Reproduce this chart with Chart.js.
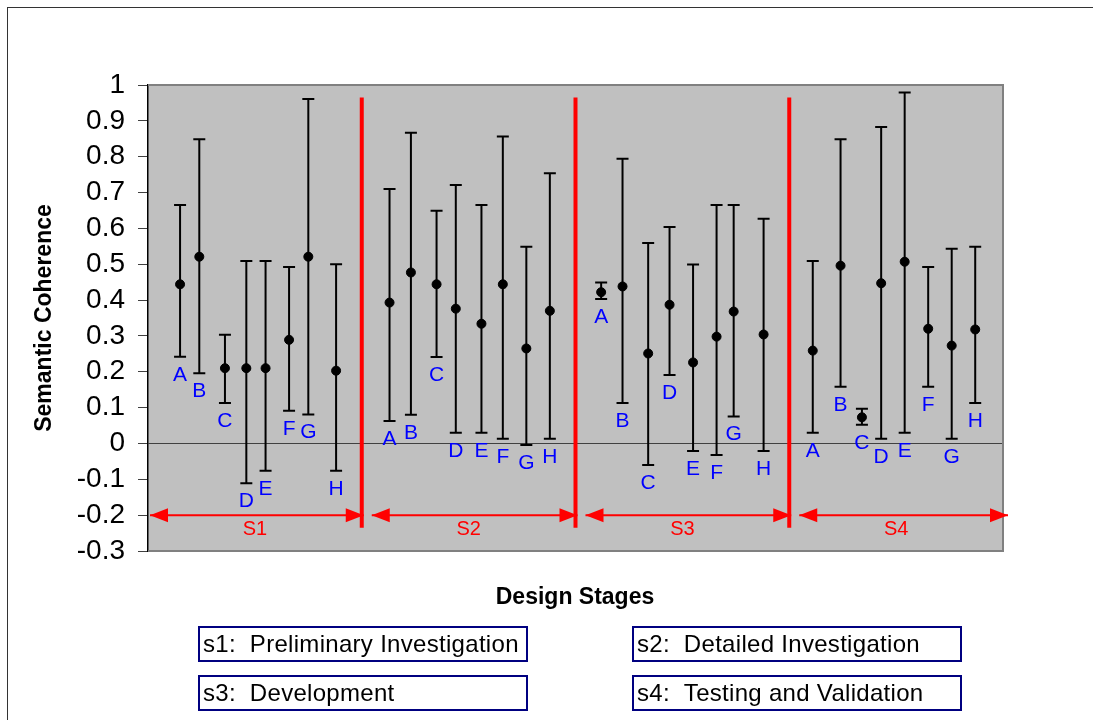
<!DOCTYPE html>
<html>
<head>
<meta charset="utf-8">
<script src="https://cdn.jsdelivr.net/npm/chart.js@4.4.1/dist/chart.umd.min.js"></script>
<style>
  html, body { margin: 0; padding: 0; background: #fff; }
  #wrap { position: relative; width: 1093px; height: 720px; overflow: hidden; font-family: 'Liberation Sans', Arial, sans-serif; }
  #frame { position: absolute; left: 7px; top: 7px; width: 1200px; height: 800px; border-left: 1.5px solid #333; border-top: 1.5px solid #333; }
  canvas { position: absolute; left: 0; top: 0; }
  .xtitle { position: absolute; left: 0; width: 1150px; top: 583px; text-align: center; font-weight: bold; font-size: 23px; color: #000; }
  .lbox { position: absolute; width: 323px; height: 32px; border: 2px solid #000080; font-size: 24px; letter-spacing: 0.3px; line-height: 32px; padding-left: 3px; box-sizing: content-box; white-space: nowrap; color: #000; }
</style>
</head>
<body>
<div id="wrap">
  <div id="frame"></div>
  <canvas id="chart" width="1093" height="720"></canvas>
  <div class="xtitle">Design Stages</div>
  <div id="legend"></div>
</div>
<script>
const LETTERS = ['A', 'B', 'C', 'D', 'E', 'F', 'G', 'H'];
const STAGES = ['S1', 'S2', 'S3', 'S4'];
const STAGE_BOUNDS = [0, 10, 20, 30, 40];
const LEGEND = [
  's1:  Preliminary Investigation',
  's2:  Detailed Investigation',
  's3:  Development',
  's4:  Testing and Validation',
];

// x position of each sample, 8 per stage
const X_POS = [
  1.5, 2.4, 3.6, 4.6, 5.5, 6.6, 7.5, 8.8,
  11.3, 12.3, 13.5, 14.4, 15.6, 16.6, 17.7, 18.8,
  21.2, 22.2, 23.4, 24.4, 25.5, 26.6, 27.4, 28.8,
  31.1, 32.4, 33.4, 34.3, 35.4, 36.5, 37.6, 38.7,
];
const MEANS = [
  0.444, 0.521, 0.21, 0.21, 0.21, 0.289, 0.521, 0.203,
  0.393, 0.477, 0.444, 0.376, 0.334, 0.444, 0.265, 0.37,
  0.422, 0.438, 0.251, 0.387, 0.226, 0.298, 0.368, 0.304,
  0.259, 0.496, 0.073, 0.447, 0.507, 0.32, 0.273, 0.318,
];
const HIGHS = [
  0.665, 0.849, 0.303, 0.509, 0.509, 0.492, 0.961, 0.5,
  0.71, 0.867, 0.649, 0.721, 0.665, 0.856, 0.549, 0.754,
  0.449, 0.794, 0.559, 0.604, 0.499, 0.665, 0.665, 0.627,
  0.509, 0.849, 0.097, 0.883, 0.979, 0.492, 0.543, 0.549,
];
const LOWS = [
  0.242, 0.196, 0.113, -0.111, -0.076, 0.091, 0.081, -0.076,
  0.063, 0.08, 0.241, 0.03, 0.03, 0.013, -0.004, 0.013,
  0.403, 0.113, -0.06, 0.191, -0.021, -0.032, 0.075, -0.021,
  0.03, 0.158, 0.052, 0.013, 0.03, 0.158, 0.013, 0.113,
];
const ARROW_LEVEL = -0.2;
const DIVIDER_TOP = 0.965;
const DIVIDER_BOTTOM = -0.235;

const RED = '#FF0000';
const FONT = "'Liberation Sans', Arial, sans-serif";

const stageMarks = {
  id: 'stageMarks',
  beforeDraw(chart) {
    const { ctx, chartArea: a } = chart;
    ctx.save();
    ctx.fillStyle = '#C0C0C0';
    ctx.fillRect(a.left, a.top, a.right - a.left, a.bottom - a.top);
    ctx.restore();
  },
  beforeDatasetsDraw(chart) {
    const { ctx, chartArea: a, scales: { x, y } } = chart;
    ctx.save();
    // plot frame (top, right, bottom)
    ctx.strokeStyle = '#808080';
    ctx.lineWidth = 2;
    ctx.beginPath();
    ctx.moveTo(a.left, a.top);
    ctx.lineTo(a.right, a.top);
    ctx.lineTo(a.right, a.bottom);
    ctx.lineTo(a.left, a.bottom);
    ctx.stroke();

    // error bars
    ctx.strokeStyle = '#000';
    ctx.lineWidth = 2;
    X_POS.forEach((xv, i) => {
      const px = x.getPixelForValue(xv);
      const top = y.getPixelForValue(HIGHS[i]);
      const bot = y.getPixelForValue(LOWS[i]);
      ctx.beginPath();
      ctx.moveTo(px, top);
      ctx.lineTo(px, bot);
      ctx.moveTo(px - 6, top);
      ctx.lineTo(px + 6, top);
      ctx.moveTo(px - 6, bot);
      ctx.lineTo(px + 6, bot);
      ctx.stroke();
    });

    // stage dividers
    ctx.strokeStyle = RED;
    ctx.lineWidth = 4;
    STAGE_BOUNDS.slice(1, -1).forEach((b) => {
      const px = x.getPixelForValue(b);
      ctx.beginPath();
      ctx.moveTo(px, y.getPixelForValue(DIVIDER_TOP));
      ctx.lineTo(px, y.getPixelForValue(DIVIDER_BOTTOM));
      ctx.stroke();
    });
    ctx.restore();
  },
  afterDatasetsDraw(chart) {
    const { ctx, scales: { x, y } } = chart;
    ctx.save();
    const ay = y.getPixelForValue(ARROW_LEVEL);
    const head = (tip, dir) => {
      ctx.beginPath();
      ctx.moveTo(tip, ay);
      ctx.lineTo(tip - dir * 18, ay - 7);
      ctx.lineTo(tip - dir * 18, ay + 7);
      ctx.closePath();
      ctx.fill();
    };
    ctx.strokeStyle = RED;
    ctx.fillStyle = RED;
    ctx.lineWidth = 2;
    ctx.font = `20px ${FONT}`;
    ctx.textAlign = 'center';
    ctx.textBaseline = 'middle';
    STAGES.forEach((name, s) => {
      const x0 = x.getPixelForValue(STAGE_BOUNDS[s]) + (s === 0 ? 2 : 10);
      const x1 = x.getPixelForValue(STAGE_BOUNDS[s + 1]) + (s === STAGES.length - 1 ? 5 : 2);
      ctx.beginPath();
      ctx.moveTo(x0, ay);
      ctx.lineTo(x1, ay);
      ctx.stroke();
      head(x0, -1);
      head(x1, 1);
      ctx.fillText(name, (x.getPixelForValue(STAGE_BOUNDS[s]) + x.getPixelForValue(STAGE_BOUNDS[s + 1])) / 2, ay + 14);
    });

    // sample letters under each bar
    ctx.fillStyle = '#0000FF';
    ctx.font = `21px ${FONT}`;
    X_POS.forEach((xv, i) => {
      ctx.fillText(LETTERS[i % LETTERS.length], x.getPixelForValue(xv), y.getPixelForValue(LOWS[i]) + 18);
    });
    ctx.restore();
  },
};

new Chart(document.getElementById('chart'), {
  type: 'scatter',
  data: {
    datasets: [{
      label: 'Semantic Coherence',
      data: X_POS.map((xv, i) => ({ x: xv, y: MEANS[i] })),
      backgroundColor: '#000',
      borderColor: '#000',
      pointRadius: 4.5,
      pointHoverRadius: 4.5,
    }],
  },
  options: {
    responsive: false,
    animation: false,
    layout: { padding: { left: 0, top: 85, right: 90, bottom: 169 } },
    plugins: { legend: { display: false }, tooltip: { enabled: false } },
    scales: {
      x: { type: 'linear', min: 0, max: 40, display: false },
      y: {
        min: -0.3,
        max: 1,
        afterFit(scale) { scale.width = 148; },
        ticks: {
          stepSize: 0.1,
          autoSkip: false,
          padding: 13,
          color: '#000',
          font: { family: FONT, size: 28 },
          callback: (v) => String(Math.round(v * 10) / 10),
        },
        grid: {
          color: (c) => (Math.abs(c.tick.value) < 1e-9 ? '#404040' : 'rgba(0,0,0,0)'),
          tickColor: '#404040',
          tickLength: 10,
          lineWidth: 1,
        },
        border: { color: '#000', width: 1.5 },
        title: {
          display: true,
          text: 'Semantic Coherence',
          color: '#000',
          font: { family: FONT, size: 23, weight: 'bold' },
          padding: { top: 31, bottom: 0 },
        },
      },
    },
  },
  plugins: [stageMarks],
});

const BOX_POS = [[198, 626], [632, 626], [198, 675], [632, 675]];
document.getElementById('legend').innerHTML = LEGEND
  .map((text, i) => `<div class="lbox" style="left:${BOX_POS[i][0]}px;top:${BOX_POS[i][1]}px">${text.replace(/  /g, ' &nbsp;')}</div>`)
  .join('');
</script>
</body>
</html>
